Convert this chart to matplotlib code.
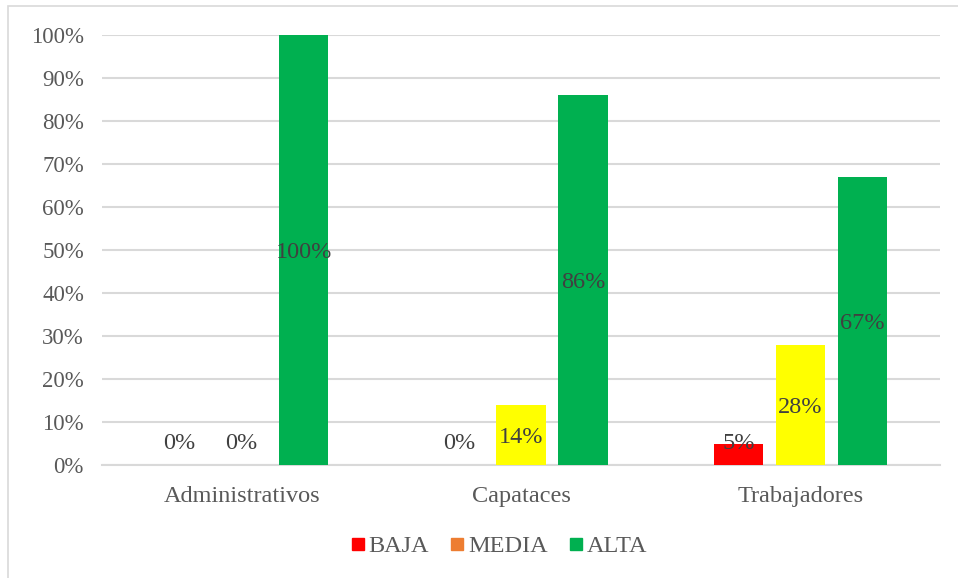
import numpy as np
import matplotlib.pyplot as plt
from matplotlib.lines import Line2D

categories = ['Administrativos', 'Capataces', 'Trabajadores']
series = ['BAJA', 'MEDIA', 'ALTA']
baja = [0.00, 0.00, 0.05]
media = [0.00, 0.14, 0.28]
alta = [1.00, 0.86, 0.67]
bar_colors = ['#ff0000', '#ffff00', '#00b050']
legend_colors = ['#ff0000', '#ed7d31', '#00b050']

plt.rcParams['font.family'] = ['Liberation Serif', 'DejaVu Serif']

fig = plt.figure(figsize=(9.58, 5.78), dpi=100)
ax = fig.add_axes([102 / 958, 113 / 578, 838 / 958, 430 / 578])

x = np.arange(len(categories))
width = 0.176
step = 0.222
for i, (vals, col) in enumerate(zip([baja, media, alta], bar_colors)):
    pos = x + (i - 1) * step
    ax.bar(pos, vals, width, color=col, zorder=3)
    for p, v in zip(pos, vals):
        # Excel keeps small / zero labels just above the axis
        ax.text(p, max(v / 2, 0.055), f'{v:.0%}', ha='center',
                va='center_baseline', fontsize=17.5, color='#404040', zorder=4)

ax.set_xlim(-0.5, 2.5)
ax.set_ylim(0, 1)
ticks = np.arange(0, 1.01, 0.1)
ax.set_yticks(ticks)
ax.set_yticklabels([f'{int(round(t * 100))}%' for t in ticks])
ax.set_xticks(x)
ax.set_xticklabels(categories)
ax.tick_params(axis='both', length=0, colors='#595959')
ax.tick_params(axis='x', pad=15, labelsize=17.5)
ax.tick_params(axis='y', pad=13, labelsize=16.5)
ax.yaxis.grid(True, color='#d9d9d9', linewidth=1.5, zorder=0)
for s in ['top', 'right', 'left']:
    ax.spines[s].set_visible(False)
ax.spines['bottom'].set_color('#d9d9d9')
ax.spines['bottom'].set_linewidth(1.5)

handles = [Line2D([], [], marker='s', linestyle='', markersize=9,
                  markerfacecolor=c, markeredgecolor=c) for c in legend_colors]
fig.legend(handles, series, loc='center', bbox_to_anchor=(0.515, 1 - 546 / 578),
           ncol=3, frameon=False, fontsize=17.5, handletextpad=-0.3,
           handlelength=1.5, columnspacing=0.4, labelcolor='#595959')

fig.add_artist(plt.Rectangle((8 / 958, -0.1), 1.1, 1 - 6 / 578 + 0.1,
                             transform=fig.transFigure, fill=False,
                             edgecolor='#d9d9d9', linewidth=1.2))

fig.savefig('out.png', dpi=100)
